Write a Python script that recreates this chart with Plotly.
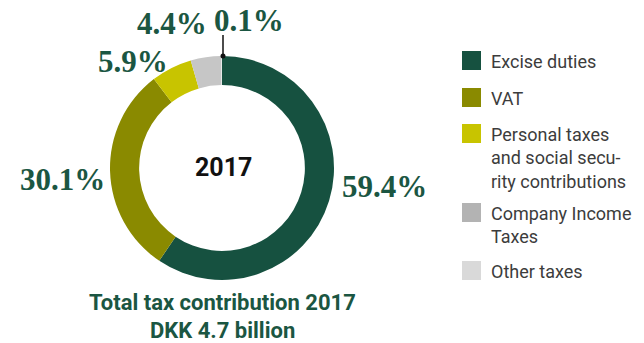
import plotly.graph_objects as go

# Tax contribution breakdown, 2017 (share of total, %)
categories = ["Excise duties", "VAT", "Personal taxes and social security contributions",
              "Company Income Taxes", "Other taxes"]
shares = [59.4, 30.1, 5.9, 4.4, 0.1]
legend_labels = ["Excise duties", "VAT", "Personal taxes<br>and social secu-<br>rity contributions",
                 "Company Income<br>Taxes", "Other taxes"]
slice_colors = ["#165140", "#8a8a00", "#c8c400", "#c6c6c6", "#e6e6e6"]
legend_colors = ["#165140", "#8a8a00", "#c8c400", "#b3b3b3", "#d9d9d9"]
year = "2017"
title_lines = ["Total tax contribution 2017", "DKK 4.7 billion"]

W, H = 644, 343
GREEN_TEXT = "#1b5642"


def px(x):
    return x / W


def py(y):
    return 1 - y / H


cx, cy, r = 222, 168, 112

fig = go.Figure(go.Pie(
    labels=categories,
    values=shares,
    sort=False,
    direction="clockwise",
    rotation=0,
    hole=0.74,
    marker=dict(colors=slice_colors, line=dict(width=0)),
    textinfo="none",
    hoverinfo="label+percent",
    showlegend=False,
    domain=dict(x=[px(cx - r), px(cx + r)], y=[py(cy + r), py(cy - r)]),
))

annotations = []
shapes = []

# percentage labels around the ring
label_pos = [(384, 186), (62, 179), (133, 61), (172, 23), (249, 21)]
for v, (lx, ly) in zip(shares, label_pos):
    annotations.append(dict(
        x=px(lx), y=py(ly), xref="paper", yref="paper", showarrow=False,
        text=f"<b>{v:.1f}%</b>",
        font=dict(family="Liberation Serif, serif", size=31, color=GREEN_TEXT),
        xanchor="center", yanchor="middle",
    ))

# leader line for the smallest slice
shapes.append(dict(type="line", xref="paper", yref="paper",
                   x0=px(223), x1=px(223), y0=py(56), y1=py(35),
                   line=dict(color="#111111", width=1.5)))
shapes.append(dict(type="circle", xref="paper", yref="paper",
                   x0=px(220.5), x1=px(225.5), y0=py(58.5), y1=py(53.5),
                   fillcolor="#111111", line=dict(width=0)))

# centre label
annotations.append(dict(
    x=px(cx + 1), y=py(167), xref="paper", yref="paper", showarrow=False,
    text=f"<b>{year}</b>", font=dict(family="Roboto, sans-serif", size=25, color="#111111"),
    xanchor="center", yanchor="middle",
))

# caption under the ring
for txt, yy in zip(title_lines, [302, 330]):
    annotations.append(dict(
        x=px(cx), y=py(yy), xref="paper", yref="paper", showarrow=False,
        text=f"<b>{txt}</b>", font=dict(family="Roboto, sans-serif", size=22, color=GREEN_TEXT),
        xanchor="center", yanchor="middle",
    ))

# legend: swatches and text
swatch_top = [51, 88, 124, 203, 261]
for lab, col, top in zip(legend_labels, legend_colors, swatch_top):
    shapes.append(dict(type="rect", xref="paper", yref="paper",
                       x0=px(462), x1=px(481), y0=py(top + 19), y1=py(top),
                       fillcolor=col, line=dict(width=0)))
    annotations.append(dict(
        x=px(489), y=py(top - 2), xref="paper", yref="paper", showarrow=False,
        text=lab, align="left",
        font=dict(family="Roboto, sans-serif", size=18, color="#3c3c3c"),
        xanchor="left", yanchor="top",
    ))

fig.update_layout(
    width=W, height=H,
    margin=dict(l=0, r=0, t=0, b=0),
    paper_bgcolor="white", plot_bgcolor="white",
    annotations=annotations, shapes=shapes,
)

fig.write_html("out.html")
